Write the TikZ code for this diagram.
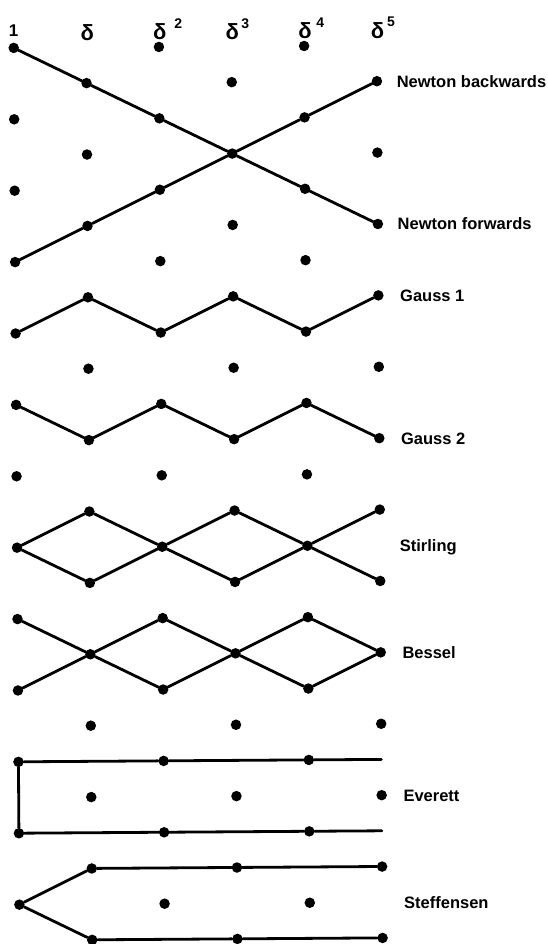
\documentclass[tikz,border=0pt]{standalone}
\usepackage{fontspec}
\setmainfont{Liberation Sans}
\begin{document}
\begin{tikzpicture}[x=1pt,y=-1pt,
  dot/.style={circle,fill=black,inner sep=0pt,minimum size=10.5pt},
  link/.style={line width=2.8pt,line cap=round},
  lab/.style={font=\bfseries\fontsize{16.5}{18}\selectfont,anchor=base west,inner sep=0pt},
  head/.style={font=\bfseries\fontsize{22}{24}\selectfont,inner sep=0pt},
  sup/.style={font=\bfseries\fontsize{14}{15}\selectfont,inner sep=0pt}]
\useasboundingbox (0,0) rectangle (548,944);
\begin{scope}[rotate=0.38]
  % grid of dots (checkerboard)
  \foreach \k in {0,...,25}{
    \foreach \j in {0,...,5}{
      \pgfmathtruncatemacro\pr{mod(\j+\k,2)}
      \ifnum\pr=0
        \node[dot] (p\j-\k) at ({13.4+72.6*\j},{48+35.7*\k}) {};
      \fi
    }
  }
  % column headings
  \node[head,font=\bfseries\fontsize{17}{18}\selectfont] (h0) at (13.4,31) {1};
  \node[head] (h1) at (87.0,33) {δ};
  \node[head] (h2) at (159.6,33) {δ};
  \node[head] (h3) at (232.2,33) {δ};
  \node[head] (h4) at (304.8,33) {δ};
  \node[head] (h5) at (377.4,33) {δ};
  \node[sup] (s2) at (178,25) {2};
  \node[sup] (s3) at (245,25) {3};
  \node[sup] (s4) at (320,25) {4};
  \node[sup] (s5) at (391,24) {5};
  % Newton
  \draw[link] (p0-0) -- (p1-1) -- (p2-2) -- (p3-3) -- (p4-4) -- (p5-5);
  \draw[link] (p0-6) -- (p1-5) -- (p2-4) -- (p3-3) -- (p4-2) -- (p5-1);
  % Gauss
  \draw[link] (p0-8) -- (p1-7) -- (p2-8) -- (p3-7) -- (p4-8) -- (p5-7);
  \draw[link] (p0-10) -- (p1-11) -- (p2-10) -- (p3-11) -- (p4-10) -- (p5-11);
  % Stirling
  \draw[link] (p0-14) -- (p1-13) -- (p2-14) -- (p3-13) -- (p4-14) -- (p5-15);
  \draw[link] (p0-14) -- (p1-15) -- (p2-14) -- (p3-15) -- (p4-14) -- (p5-13);
  % Bessel
  \draw[link] (p0-16) -- (p1-17) -- (p2-16) -- (p3-17) -- (p4-16) -- (p5-17);
  \draw[link] (p0-18) -- (p1-17) -- (p2-18) -- (p3-17) -- (p4-18) -- (p5-17);
  % Everett
  \coordinate (etop) at ({13.4+72.6*5},{48+35.7*20});
  \coordinate (ebot) at ({13.4+72.6*5},{48+35.7*22});
  \draw[link] (p0-20) -- (p2-20) -- (p4-20) -- (etop);
  \draw[link] (p0-22) -- (p2-22) -- (p4-22) -- (ebot);
  \draw[link] (p0-20) -- (p0-22);
  % Steffensen
  \draw[link] (p0-24) -- (p1-23) -- (p3-23) -- (p5-23);
  \draw[link] (p0-24) -- (p1-25) -- (p3-25) -- (p5-25);
  % labels
  \node[lab] (l1) at (396,{48+35.7*1+6}) {Newton backwards};
  \node[lab] (l2) at (396,{48+35.7*5+6}) {Newton forwards};
  \node[lab] (l3) at (398,{48+35.7*7+6}) {Gauss 1};
  \node[lab] (l4) at (398,{48+35.7*11+6}) {Gauss 2};
  \node[lab] (l5) at (396,{48+35.7*14+6}) {Stirling};
  \node[lab] (l6) at (398,{48+35.7*17+6}) {Bessel};
  \node[lab] (l7) at (398,{48+35.7*21+6}) {Everett};
  \node[lab] (l8) at (398,{48+35.7*24+6}) {Steffensen};
\end{scope}
\end{tikzpicture}
\end{document}
